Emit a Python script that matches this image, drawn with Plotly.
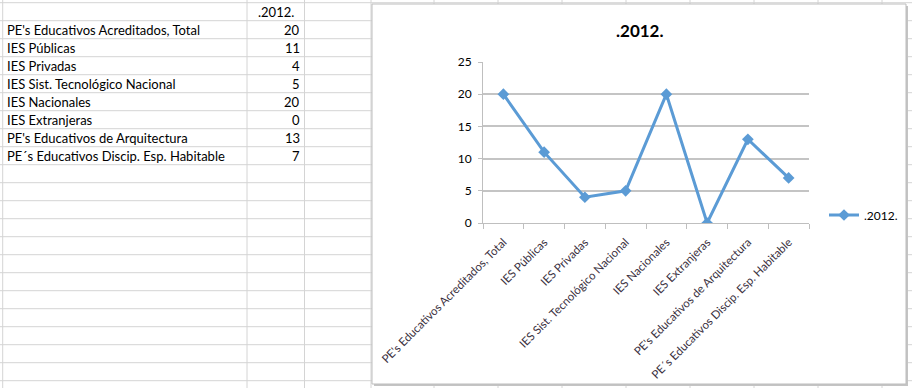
import plotly.graph_objects as go

categories = [
    "PE's Educativos Acreditados, Total",
    "IES Públicas",
    "IES Privadas",
    "IES Sist. Tecnológico Nacional",
    "IES Nacionales",
    "IES Extranjeras",
    "PE's Educativos de Arquitectura",
    "PE´s Educativos Discip. Esp. Habitable",
]
values_2012 = [20, 11, 4, 5, 20, 0, 13, 7]
series_name = ".2012."
chart_title = ".2012."
y_ticks = [0, 5, 10, 15, 20, 25]

W, H = 912, 388
FONT = "Lato"
BLUE = "#5B9BD5"
GRID = "#d4d4d4"


def px(x):
    return x / W


def py(y):
    return 1 - y / H


fig = go.Figure()
fig.add_trace(go.Scatter(
    x=categories, y=values_2012, mode="lines+markers", name=series_name,
    line=dict(color=BLUE, width=3),
    marker=dict(symbol="diamond", size=9, color=BLUE),
))

shapes = []
# spreadsheet grid
col_lines = [2.7, 247, 304.5, 371, 434, 498, 562, 626, 690, 754, 818, 882]
for cx in col_lines:
    shapes.append(dict(type="line", xref="paper", yref="paper", x0=px(cx), x1=px(cx),
                       y0=0, y1=1, line=dict(color=GRID, width=1), layer="below"))
for k in range(22):
    ry = 2.7 + 18 * k
    shapes.append(dict(type="line", xref="paper", yref="paper", x0=0, x1=1,
                       y0=py(ry), y1=py(ry), line=dict(color=GRID, width=1), layer="below"))
# chart shadow and box
shapes.append(dict(type="rect", xref="paper", yref="paper", x0=px(374), x1=px(908),
                   y0=py(386), y1=py(6), fillcolor="#c4c4c4", line=dict(width=0), layer="below"))
shapes.append(dict(type="rect", xref="paper", yref="paper", x0=px(372), x1=px(906),
                   y0=py(384), y1=py(4), fillcolor="white",
                   line=dict(color="#bdbdbd", width=1), layer="below"))

annotations = []
annotations.append(dict(text="<b>" + chart_title + "</b>", x=px(639.5), y=py(31),
                        xref="paper", yref="paper", showarrow=False,
                        font=dict(family=FONT, size=17, color="black"),
                        xanchor="center", yanchor="middle"))
# table
annotations.append(dict(text=series_name, x=px(275.5), y=py(12.5), xref="paper", yref="paper",
                        showarrow=False, font=dict(family=FONT, size=13, color="black"),
                        xanchor="center", yanchor="middle"))
for i, (c, v) in enumerate(zip(categories, values_2012)):
    cy = 2.7 + 18 * (i + 1) + 9.5
    annotations.append(dict(text=c, x=px(5), y=py(cy), xref="paper", yref="paper",
                            showarrow=False, font=dict(family=FONT, size=13, color="black"),
                            xanchor="left", yanchor="middle"))
    annotations.append(dict(text=str(v), x=px(302), y=py(cy), xref="paper", yref="paper",
                            showarrow=False, font=dict(family=FONT, size=13, color="black"),
                            xanchor="right", yanchor="middle"))

fig.update_layout(
    template="none",
    width=W, height=H, autosize=False,
    margin=dict(l=0, r=0, t=0, b=0, pad=0),
    paper_bgcolor="white", plot_bgcolor="rgba(0,0,0,0)",
    shapes=shapes, annotations=annotations,
    showlegend=True,
    legend=dict(x=px(824), y=py(215), xanchor="left", yanchor="middle",
                bgcolor="rgba(0,0,0,0)", borderwidth=0,
                font=dict(family=FONT, size=12, color="black")),
    xaxis=dict(type="category", domain=[px(483), px(809)], range=[-0.5, 7.5],
               automargin=False, showgrid=False, zeroline=False,
               showline=True, linecolor="#bfbfbf", linewidth=1,
               ticks="outside", tickson="boundaries", ticklen=5, tickcolor="#bfbfbf",
               ticklabelstandoff=7,
               tickangle=-45, tickfont=dict(family=FONT, size=11.5, color="#3a3040")),
    yaxis=dict(range=[0, 25], domain=[py(223), py(62)], automargin=False,
               tickmode="array", tickvals=y_ticks, ticktext=[str(t) for t in y_ticks],
               showgrid=True, gridcolor="#c4c4c4", gridwidth=1.5, zeroline=False,
               showline=True, linecolor="#bfbfbf", linewidth=1,
               ticks="outside", ticklen=4, tickcolor="#bfbfbf", ticklabelstandoff=4,
               tickfont=dict(family=FONT, size=12, color="black")),
)

fig.write_html("out.html", config={"displayModeBar": False},
               post_script="document.body.style.margin='0';document.body.style.overflow='hidden';")
